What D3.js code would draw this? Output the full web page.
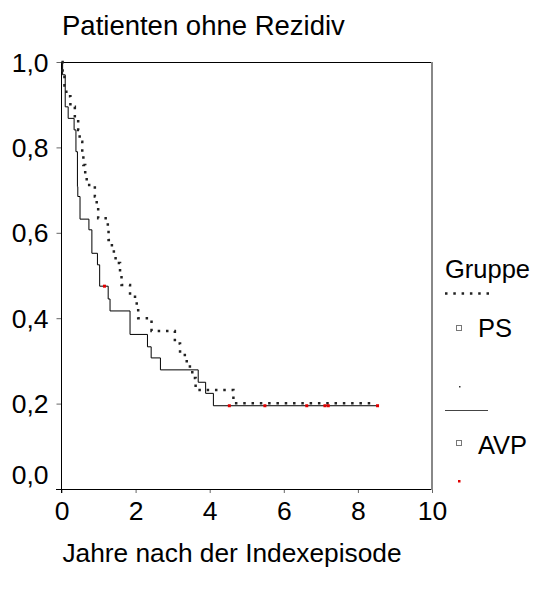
<!DOCTYPE html>
<html>
<head>
<meta charset="utf-8">
<script src="https://cdn.jsdelivr.net/npm/d3@7"></script>
<style>
  body { margin: 0; background: #fff; }
  svg text { font-family: "Liberation Sans", Arial, sans-serif; fill: #000; }
</style>
</head>
<body>
<svg id="chart" width="539" height="593"></svg>
<script>
// Kaplan-Meier steps (time of drop, survival after drop)
const psTimes = [0, 0.03, 0.08, 0.13, 0.24, 0.36, 0.45, 0.49, 0.56, 0.59, 0.64, 0.68, 0.90, 0.95, 0.99,
                 1.25, 1.27, 1.36, 1.46, 1.58, 1.62, 1.85, 2.03, 2.07, 2.43, 3.06, 3.20, 3.38, 3.53, 3.62, 4.64];
const psSurv  = [1.0, 0.97, 0.945, 0.92, 0.895, 0.868, 0.841, 0.813, 0.786, 0.759, 0.737, 0.712, 0.685, 0.661, 0.634,
                 0.607, 0.583, 0.556, 0.529, 0.503, 0.478, 0.450, 0.427, 0.400, 0.370, 0.341, 0.314, 0.287, 0.260, 0.232, 0.201];
const psEnd = 8.35;

const avpTimes = [0, 0.03, 0.10, 0.18, 0.34, 0.39, 0.43, 0.44, 0.50, 0.74, 0.82, 0.97, 1.03,
                  1.26, 1.31, 1.85, 2.32, 2.42, 2.67, 3.69, 3.89, 4.10];
const avpSurv  = [1.0, 0.97, 0.895, 0.868, 0.841, 0.79, 0.708, 0.685, 0.632, 0.607, 0.552, 0.525, 0.475,
                  0.445, 0.417, 0.362, 0.333, 0.307, 0.279, 0.250, 0.224, 0.195];
const avpEnd = 8.53;
const avpCensorTimes = [1.16, 4.53, 5.49, 6.62, 7.11, 7.20, 8.53];

const xTicks = [0, 2, 4, 6, 8, 10];
const yTicks = [0, 0.2, 0.4, 0.6, 0.8, 1.0];

const svg = d3.select('#chart');
const x = d3.scaleLinear().domain([0, 10]).range([61.5, 432]);
const y = d3.scaleLinear().domain([0, 1]).range([489, 62]);
const fmt = d => d3.format('.1f')(d).replace('.', ',');

// survival at time t for a step function
function survAt(times, surv, t) {
    let s = surv[0];
    for (let i = 0; i < times.length; i++) if (times[i] <= t) s = surv[i];
    return s;
}

// y axis
const yAxis = svg.append('g')
    .attr('transform', 'translate(61.5,0)')
    .call(d3.axisLeft(y).tickValues(yTicks).tickSize(5).tickPadding(8).tickFormat(fmt));
yAxis.select('.domain').remove();
yAxis.selectAll('.tick line').attr('stroke', '#666');
yAxis.selectAll('.tick text').attr('font-size', 26.5).attr('fill', '#000')
    .attr('dy', d => d === 0 ? '-0.22em' : '0.34em');

// x axis
const xAxis = svg.append('g')
    .attr('transform', 'translate(0,489)')
    .call(d3.axisBottom(x).tickValues(xTicks).tickSize(4).tickPadding(8).tickFormat(d3.format('d')));
xAxis.select('.domain').remove();
xAxis.selectAll('.tick line').attr('stroke', '#666');
xAxis.selectAll('.tick text').attr('font-size', 26.5).attr('fill', '#000').attr('dy', '0.71em');

// frame
svg.append('line').attr('x1', 61.5).attr('x2', 432).attr('y1', 62.5).attr('y2', 62.5).attr('stroke', '#000');
svg.append('line').attr('x1', 56).attr('x2', 432).attr('y1', 489.5).attr('y2', 489.5).attr('stroke', '#000');
svg.append('line').attr('x1', 61.5).attr('x2', 61.5).attr('y1', 62).attr('y2', 493).attr('stroke', '#000');
svg.append('line').attr('x1', 432).attr('x2', 432).attr('y1', 62).attr('y2', 490).attr('stroke', '#888').attr('stroke-width', 2);

const line = d3.line().x(d => x(d[0])).y(d => y(d[1])).curve(d3.curveStepAfter);
const psPts = psTimes.map((t, i) => [t, psSurv[i]]).concat([[psEnd, psSurv[psSurv.length - 1]]]);
const avpPts = avpTimes.map((t, i) => [t, avpSurv[i]]).concat([[avpEnd, avpSurv[avpSurv.length - 1]]]);

svg.append('path').attr('d', line(avpPts)).attr('fill', 'none').attr('stroke', '#000').attr('stroke-width', 1);
svg.append('path').attr('d', line(psPts)).attr('fill', 'none').attr('stroke', '#222')
    .attr('stroke-width', 2.5).attr('stroke-dasharray', '2.5 5.8');

svg.selectAll('.cens').data(avpCensorTimes).join('rect').attr('class', 'cens')
    .attr('x', d => x(d) - 1.5).attr('y', d => y(survAt(avpTimes, avpSurv, d)) - 1.5)
    .attr('width', 3).attr('height', 3).attr('fill', '#e00000');

// titles
svg.append('text').attr('x', 62).attr('y', 35).attr('font-size', 27.5).text('Patienten ohne Rezidiv');
svg.append('text').attr('x', 232).attr('y', 562).attr('font-size', 26.3).attr('text-anchor', 'middle')
    .text('Jahre nach der Indexepisode');

// legend
const lg = svg.append('g');
lg.append('text').attr('x', 445).attr('y', 278).attr('font-size', 25.5).text('Gruppe');
lg.append('line').attr('x1', 445).attr('x2', 489).attr('y1', 293.5).attr('y2', 293.5)
    .attr('stroke', '#222').attr('stroke-width', 2.5).attr('stroke-dasharray', '2.5 5.8');
lg.append('rect').attr('x', 456.5).attr('y', 325.5).attr('width', 5).attr('height', 5)
    .attr('fill', '#fff').attr('stroke', '#777');
lg.append('text').attr('x', 478).attr('y', 337).attr('font-size', 25.5).text('PS');
lg.append('rect').attr('x', 459).attr('y', 386).attr('width', 1.5).attr('height', 1.5).attr('fill', '#333');
lg.append('line').attr('x1', 445).attr('x2', 488).attr('y1', 410.5).attr('y2', 410.5).attr('stroke', '#444');
lg.append('rect').attr('x', 456.5).attr('y', 440.5).attr('width', 5).attr('height', 5)
    .attr('fill', '#fff').attr('stroke', '#777');
lg.append('text').attr('x', 478).attr('y', 454).attr('font-size', 25.5).text('AVP');
lg.append('rect').attr('x', 458).attr('y', 480).attr('width', 2.5).attr('height', 2.5).attr('fill', '#e00000');
</script>
</body>
</html>
